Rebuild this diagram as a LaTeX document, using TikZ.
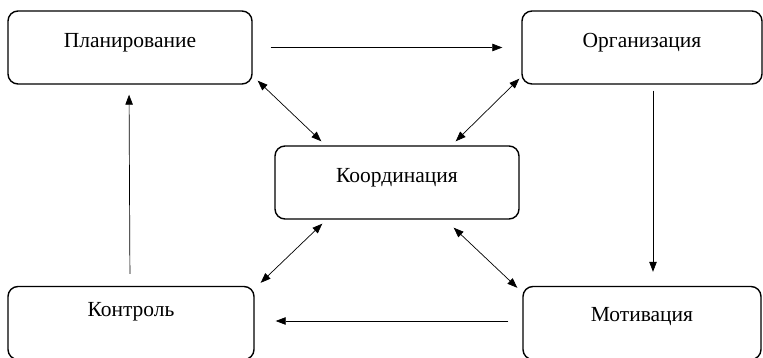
\documentclass[tikz,border=0pt]{standalone}
\usepackage{fontspec}
\setmainfont{Liberation Serif}
\usepackage{tikz}
\usetikzlibrary{positioning,arrows.meta,calc}
\definecolor{ink}{HTML}{000000}
\tikzset{
  every node/.style={font=\fontsize{21.5}{25}\selectfont},
  % --- nodes
  box/.style  = {draw=ink, rounded corners=10pt, line width=1.4pt, fill=white,
                 minimum width=244pt, minimum height=73pt, inner sep=0pt,
                 text height=14pt, text depth=14pt},
  % --- edges
  arr/.style  = {-{Triangle[length=10pt,width=7.5pt]}, draw=ink, line width=0.7pt},
  darr/.style = {{Triangle[length=10pt,width=7.5pt]}-{Triangle[length=10pt,width=7.5pt]},
                 draw=ink, line width=0.7pt},
}
\begin{document}
\begin{tikzpicture}[x=1pt,y=-1pt]
  \useasboundingbox (0,0) rectangle (763,358);
  \clip (0,0) rectangle (763,358);

  % five functions
  \node[box]                                     (plan)  at (130,47.5)  {Планирование};
  \node[box, minimum width=240pt]                (org)   at (642,47.5)  {Организация};
  \node[box]                                     (coord) at (397,182.5) {Координация};
  \node[box, minimum width=246pt, text depth=28pt] (ctrl)  at (131,323)  {Контроль};
  \node[box, minimum width=238pt, text depth=18pt] (motiv) at (642,323)  {Мотивация};

  % cycle
  \draw[arr, shorten <=18pt, shorten >=19pt] (plan.east) -- (org.west);
  \draw[arr, shorten <=6pt, shorten >=14pt] ([xshift=11pt]org.south) -- ([xshift=11pt]motiv.north);
  \draw[arr, shorten <=14pt, shorten >=21pt] ([yshift=2pt]motiv.west) -- ([yshift=2pt]ctrl.east);
  \draw[arr, shorten <=12pt, shorten >=10pt] ([xshift=-1pt]ctrl.north) -- ([xshift=-1pt]plan.south);

  % links with coordination
  \draw[darr] ([xshift=5pt,yshift=4pt]plan.south east) -- ([xshift=47pt,yshift=4pt]coord.north west);
  \draw[darr] ([xshift=-2pt,yshift=6pt]org.south west) -- ([xshift=-64pt,yshift=4pt]coord.north east);
  \draw[darr] ([xshift=48pt,yshift=-4pt]coord.south west) -- ([xshift=6pt,yshift=3pt]ctrl.north east);
  \draw[darr] ([xshift=-66pt,yshift=-8pt]coord.south east) -- ([xshift=-5pt,yshift=-2pt]motiv.north west);
\end{tikzpicture}
\end{document}
